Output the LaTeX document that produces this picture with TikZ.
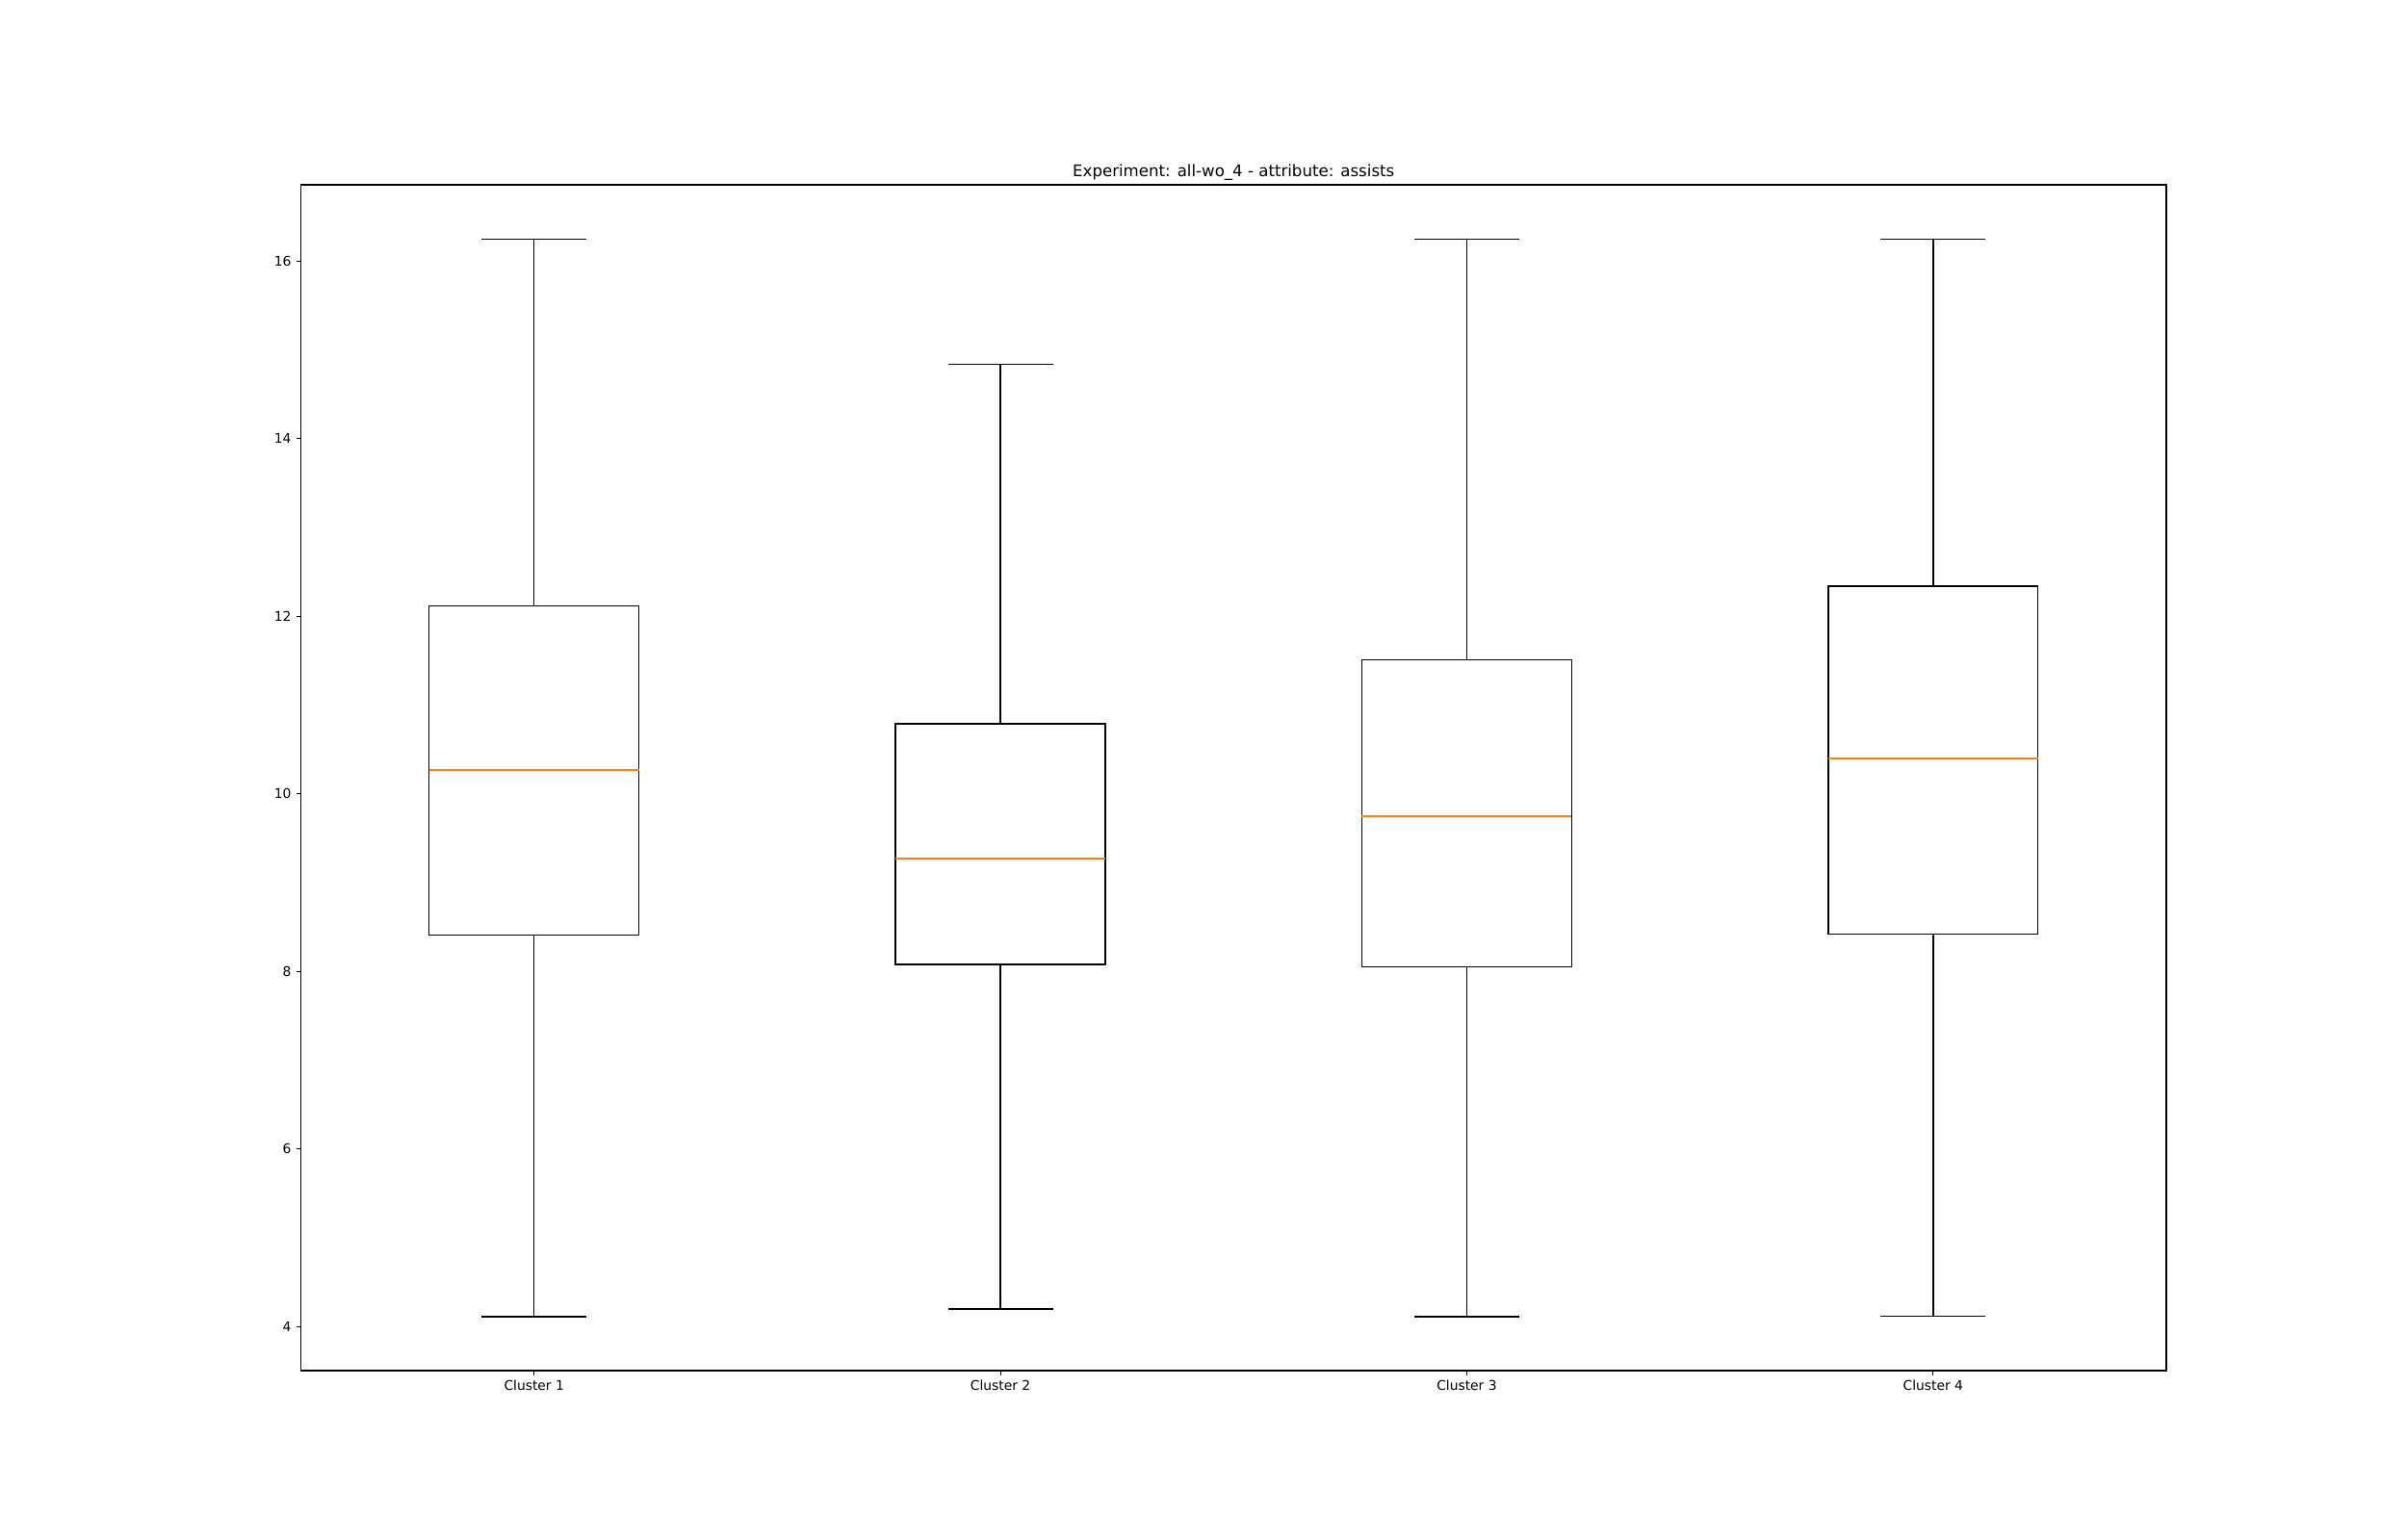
\documentclass[tikz,border=0pt]{standalone}
\usepackage{fontspec}
\setmainfont{DejaVu Sans}
\definecolor{medianorange}{HTML}{FF7F0E}

\begin{document}
\begin{tikzpicture}[
  boxline/.style={line width=1pt,black},
  medianline/.style={line width=1pt,medianorange},
  spine/.style={line width=0.8pt,black},
  tickmark/.style={line width=0.8pt,black},
  ticklabel/.style={font=\fontsize{10}{12}\selectfont,inner sep=0pt},
  titlelabel/.style={font=\fontsize{12}{14}\selectfont,inner sep=0pt}]
  \useasboundingbox (0,0) rectangle (63.5,40.64);

  \begin{scope}[x=12.303cm,y=2.3432cm,shift={(1.786cm,-3.7426cm)}]
  % cluster 1
  \draw [boxline] (0.775,8.41) rectangle (1.225,12.12);
  \draw [boxline] (1,8.41) -- (1,4.11);
  \draw [boxline] (1,12.12) -- (1,16.25);
  \draw [boxline] (0.8875,4.11) -- (1.1125,4.11);
  \draw [boxline] (0.8875,16.25) -- (1.1125,16.25);
  \draw [medianline] (0.775,10.27) -- (1.225,10.27);

  % cluster 2
  \draw [boxline] (1.775,8.08) rectangle (2.225,10.79);
  \draw [boxline] (2,8.08) -- (2,4.20);
  \draw [boxline] (2,10.79) -- (2,14.84);
  \draw [boxline] (1.8875,4.20) -- (2.1125,4.20);
  \draw [boxline] (1.8875,14.84) -- (2.1125,14.84);
  \draw [medianline] (1.775,9.27) -- (2.225,9.27);

  % cluster 3
  \draw [boxline] (2.775,8.05) rectangle (3.225,11.51);
  \draw [boxline] (3,8.05) -- (3,4.11);
  \draw [boxline] (3,11.51) -- (3,16.25);
  \draw [boxline] (2.8875,4.11) -- (3.1125,4.11);
  \draw [boxline] (2.8875,16.25) -- (3.1125,16.25);
  \draw [medianline] (2.775,9.75) -- (3.225,9.75);

  % cluster 4
  \draw [boxline] (3.775,8.42) rectangle (4.225,12.34);
  \draw [boxline] (4,8.42) -- (4,4.12);
  \draw [boxline] (4,12.34) -- (4,16.25);
  \draw [boxline] (3.8875,4.12) -- (4.1125,4.12);
  \draw [boxline] (3.8875,16.25) -- (4.1125,16.25);
  \draw [medianline] (3.775,10.40) -- (4.225,10.40);

  % axes
  \draw [spine] (0.5,3.505) rectangle (4.5,16.86);
  \node [titlelabel,anchor=base] (title) at ([yshift=6pt]2.5,16.86) {Experiment: all-wo\_4 - attribute: assists};

  \foreach \v in {4,6,...,16} {
    \draw [tickmark] (0.5,\v) -- ++(-3.5pt,0);
    \node [ticklabel,anchor=east] (ylab\v) at ([xshift=-7pt]0.5,\v) {\v};
  }
  \foreach \c in {1,2,3,4} {
    \draw [tickmark] (\c,3.505) -- ++(0,-3.5pt);
    \node [ticklabel,anchor=north] (xlab\c) at ([yshift=-7pt]\c,3.505) {Cluster \c};
  }
  \end{scope}
\end{tikzpicture}
\end{document}
